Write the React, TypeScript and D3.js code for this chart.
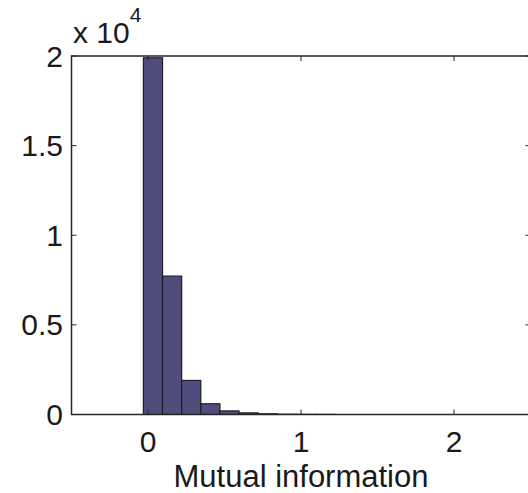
import React from "react";
import * as d3 from "d3";

const binStart = -0.03;
const binWidth = 0.125;
const counts = [19900, 7720, 1900, 600, 200, 90, 40, 15, 8, 5];
const xTicks = [0, 1, 2];
const yTicks = [0, 5000, 10000, 15000, 20000];
const yTickLabels = ["0", "0.5", "1", "1.5", "2"];
const xLabel = "Mutual information";

const W = 528;
const H = 493;
const m = { left: 71.5, top: 56, right: 530.5, bottom: 414.5 };
const FONT = "'Liberation Sans', Arial, Helvetica, sans-serif";

export default function App() {
  const x = d3.scaleLinear().domain([-0.5, 2.5]).range([m.left, m.right]);
  const y = d3.scaleLinear().domain([0, 20000]).range([m.bottom, m.top]);
  const tickLen = 5;
  const axisColor = "#262626";
  return (
    <svg
      width={W}
      height={H}
      style={{ position: "absolute", left: 0, top: 0, background: "#fff" }}
      fontFamily={FONT}
    >
      <defs>
        <clipPath id="plot">
          <rect x={m.left} y={m.top} width={m.right - m.left} height={m.bottom - m.top} />
        </clipPath>
      </defs>
      <g clipPath="url(#plot)">
        {counts.map((c, i) => {
          const x0 = x(binStart + i * binWidth);
          const x1 = x(binStart + (i + 1) * binWidth);
          const yy = y(c);
          return (
            <rect
              key={i}
              x={x0}
              y={yy}
              width={x1 - x0}
              height={y(0) - yy}
              fill="#504c7c"
              stroke="#1e1e24"
              strokeWidth={1.2}
            />
          );
        })}
      </g>
      <rect
        x={m.left}
        y={m.top}
        width={m.right - m.left}
        height={m.bottom - m.top}
        fill="none"
        stroke={axisColor}
        strokeWidth={1.5}
      />
      {xTicks.map((t) => (
        <g key={"x" + t}>
          <line x1={x(t)} x2={x(t)} y1={m.bottom} y2={m.bottom - tickLen} stroke={axisColor} strokeWidth={1} />
          <line x1={x(t)} x2={x(t)} y1={m.top} y2={m.top + tickLen} stroke={axisColor} strokeWidth={1} />
          <text x={x(t)} y={452} textAnchor="middle" fontSize={30} fill="#1a1a1a">
            {t}
          </text>
        </g>
      ))}
      {yTicks.map((t, i) => (
        <g key={"y" + t}>
          <line x1={m.left} x2={m.left + tickLen} y1={y(t)} y2={y(t)} stroke={axisColor} strokeWidth={1} />
          <line x1={m.right} x2={m.right - tickLen} y1={y(t)} y2={y(t)} stroke={axisColor} strokeWidth={1} />
          <text x={63} y={y(t) + 10.5} textAnchor="end" fontSize={30} fill="#1a1a1a">
            {yTickLabels[i]}
          </text>
        </g>
      ))}
      <text x={73} y={43} fontSize={30} fill="#1a1a1a">
        x 10
        <tspan fontSize={21} dy={-21}>4</tspan>
      </text>
      <text x={(m.left + m.right) / 2} y={487} textAnchor="middle" fontSize={31} fill="#1a1a1a">
        {xLabel}
      </text>
    </svg>
  );
}
